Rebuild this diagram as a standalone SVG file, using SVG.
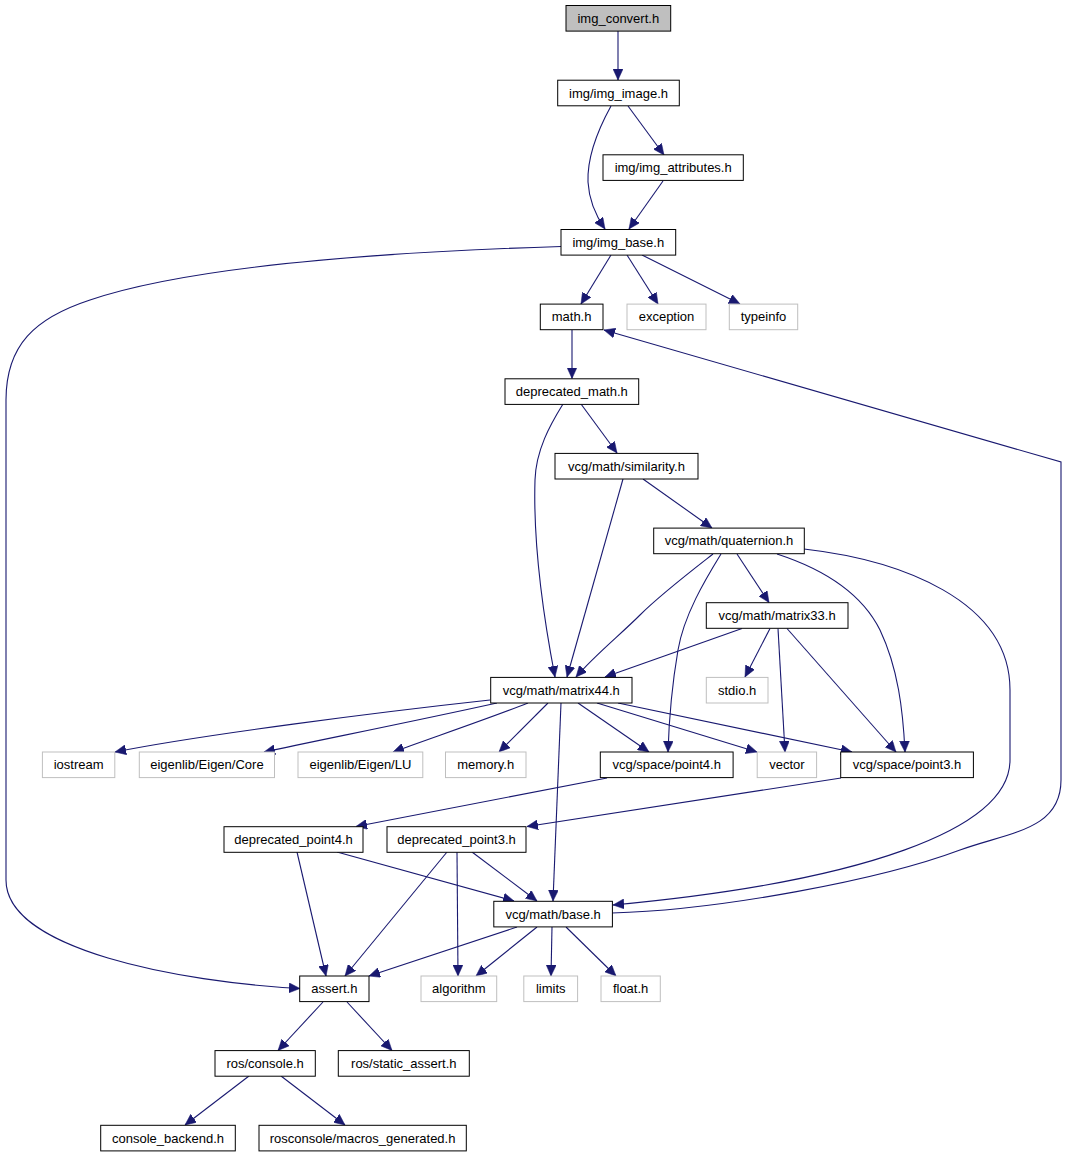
<svg xmlns="http://www.w3.org/2000/svg" width="1067" height="1157" viewBox="0 0 1067 1157">
<style>
.bg{fill:#ffffff}
.n rect{fill:#ffffff;stroke:#000000;stroke-width:1}
.g rect{fill:#ffffff;stroke:#bfbfbf;stroke-width:1}
.r rect{fill:#bfbfbf;stroke:#000000;stroke-width:1}
text{font-family:"Liberation Sans",Arial,Helvetica,sans-serif;font-size:13px;fill:#000000;text-anchor:middle}
#edges path{fill:none;stroke:#191970;stroke-width:1.1;marker-end:url(#ah)}
</style>
<defs>
<marker id="ah" markerUnits="userSpaceOnUse" markerWidth="11" markerHeight="10" refX="11" refY="5" orient="auto">
<path d="M0,0 L11,5 L0,10 z" fill="#191970" stroke="#191970" stroke-width="0.5"/>
</marker>
</defs>
<rect class="bg" x="0" y="0" width="1067" height="1157"/>
<g id="edges">
<path d="M618,31 L618,80"/>
<path d="M611,106 C600,126 587,155 588,182 C589,200 596,216 605,229"/>
<path d="M628,106 L664,155"/>
<path d="M663,181 L629,229"/>
<path d="M561,246.5 C449,250 208,260 90,300 C35,318 6,345 6,400 L6,880 C6,950 180,982 300,988.5"/>
<path d="M611,255 L581,304"/>
<path d="M627,255 L658,304"/>
<path d="M642,255 L740,304"/>
<path d="M572,330 L572,378.5"/>
<path d="M581,404 L617,453"/>
<path d="M563,404 C550,425 536,450 535,480 C533,545 545,625 555,677"/>
<path d="M623,479 L567,677"/>
<path d="M643,479 L712,528"/>
<path d="M713,554 C690,572 660,595 640,615 C620,635 595,655 576,677"/>
<path d="M721,554 C705,580 684,615 678,650 C672,685 669,720 668,752"/>
<path d="M737,554 L769,602.5"/>
<path d="M777,554 C820,568 860,590 880,630 C898,668 903,710 905,752"/>
<path d="M804,549 C900,560 1010,600 1010,690 L1010,760 C1010,830 860,882 613,905"/>
<path d="M612,913 C720,910 880,880 960,850 C1010,832 1061,830 1061,780 L1061,462 L604,330"/>
<path d="M490,700 C380,712 200,735 115,752"/>
<path d="M497,703 C420,720 330,738 264,752"/>
<path d="M528,703 C490,718 440,735 393,752"/>
<path d="M548,703 L499,752"/>
<path d="M578,703 L649,752"/>
<path d="M597,703 L757,752"/>
<path d="M618,703 L852,752"/>
<path d="M561,703 L553,901"/>
<path d="M742,628.5 L605,677"/>
<path d="M770,628.5 L745,677"/>
<path d="M778,628.5 L785,752"/>
<path d="M787,628.5 L896,752"/>
<path d="M607,778 L356,826.5"/>
<path d="M841,778 L527,826.5"/>
<path d="M297,852 L326,976"/>
<path d="M337,852 L514,901"/>
<path d="M447,852 L345,976"/>
<path d="M457,852 L458,976"/>
<path d="M472,852 L537,901"/>
<path d="M517,927 L369,976"/>
<path d="M537,927 L476,976"/>
<path d="M552,927 L551,976"/>
<path d="M566,927 L616,976"/>
<path d="M323,1002 L278,1050.5"/>
<path d="M347,1002 L392,1050.5"/>
<path d="M249,1076 L185,1125"/>
<path d="M281,1076 L345,1125"/>
</g>
<g id="n_img_convert" class="r"><rect x="566" y="5.5" width="104.7" height="25.6"/><text x="618.3" y="22.8">img_convert.h</text></g>
<g id="n_img_image" class="n"><rect x="557.7" y="80.2" width="121.6" height="25.6"/><text x="618.5" y="97.5">img/img_image.h</text></g>
<g id="n_img_attributes" class="n"><rect x="603" y="154.8" width="140.3" height="25.6"/><text x="673.2" y="172.1">img/img_attributes.h</text></g>
<g id="n_img_base" class="n"><rect x="561" y="229.5" width="114.7" height="25.6"/><text x="618.3" y="246.8">img/img_base.h</text></g>
<g id="n_math" class="n"><rect x="540.3" y="304.1" width="62.7" height="25.6"/><text x="571.6" y="321.4">math.h</text></g>
<g id="n_exception" class="g"><rect x="627" y="304.1" width="79" height="25.6"/><text x="666.5" y="321.4">exception</text></g>
<g id="n_typeinfo" class="g"><rect x="729.3" y="304.1" width="68.4" height="25.6"/><text x="763.5" y="321.4">typeinfo</text></g>
<g id="n_deprecated_math" class="n"><rect x="505" y="378.8" width="133.7" height="25.6"/><text x="571.8" y="396.1">deprecated_math.h</text></g>
<g id="n_similarity" class="n"><rect x="555" y="453.4" width="143" height="25.6"/><text x="626.5" y="470.7">vcg/math/similarity.h</text></g>
<g id="n_quaternion" class="n"><rect x="653.7" y="528.1" width="150.6" height="25.6"/><text x="729" y="545.4">vcg/math/quaternion.h</text></g>
<g id="n_matrix33" class="n"><rect x="706.3" y="602.7" width="141.7" height="25.6"/><text x="777.1" y="620">vcg/math/matrix33.h</text></g>
<g id="n_matrix44" class="n"><rect x="490.7" y="677.4" width="141.3" height="25.6"/><text x="561.3" y="694.7">vcg/math/matrix44.h</text></g>
<g id="n_stdio" class="g"><rect x="706.3" y="677.4" width="61.7" height="25.6"/><text x="737.1" y="694.7">stdio.h</text></g>
<g id="n_iostream" class="g"><rect x="42.4" y="752" width="72.4" height="25.6"/><text x="78.6" y="769.3">iostream</text></g>
<g id="n_eigen_core" class="g"><rect x="139.3" y="752" width="135.2" height="25.6"/><text x="206.9" y="769.3">eigenlib/Eigen/Core</text></g>
<g id="n_eigen_lu" class="g"><rect x="298" y="752" width="124.8" height="25.6"/><text x="360.4" y="769.3">eigenlib/Eigen/LU</text></g>
<g id="n_memory" class="g"><rect x="445.5" y="752" width="80.5" height="25.6"/><text x="485.7" y="769.3">memory.h</text></g>
<g id="n_point4" class="n"><rect x="600.3" y="752" width="132.8" height="25.6"/><text x="666.7" y="769.3">vcg/space/point4.h</text></g>
<g id="n_vector" class="g"><rect x="757.2" y="752" width="59.4" height="25.6"/><text x="786.9" y="769.3">vector</text></g>
<g id="n_point3" class="n"><rect x="840.7" y="752" width="132.7" height="25.6"/><text x="907" y="769.3">vcg/space/point3.h</text></g>
<g id="n_deprecated_point4" class="n"><rect x="224" y="826.7" width="139" height="25.6"/><text x="293.5" y="844">deprecated_point4.h</text></g>
<g id="n_deprecated_point3" class="n"><rect x="387" y="826.7" width="139" height="25.6"/><text x="456.5" y="844">deprecated_point3.h</text></g>
<g id="n_base" class="n"><rect x="493.8" y="901.3" width="118.6" height="25.6"/><text x="553.1" y="918.6">vcg/math/base.h</text></g>
<g id="n_assert" class="n"><rect x="299.7" y="976" width="69.3" height="25.6"/><text x="334.3" y="993.3">assert.h</text></g>
<g id="n_algorithm" class="g"><rect x="421" y="976" width="75.7" height="25.6"/><text x="458.8" y="993.3">algorithm</text></g>
<g id="n_limits" class="g"><rect x="523.8" y="976" width="53.8" height="25.6"/><text x="550.7" y="993.3">limits</text></g>
<g id="n_float" class="g"><rect x="601" y="976" width="59.3" height="25.6"/><text x="630.6" y="993.3">float.h</text></g>
<g id="n_ros_console" class="n"><rect x="215" y="1050.6" width="100.3" height="25.6"/><text x="265.1" y="1067.9">ros/console.h</text></g>
<g id="n_static_assert" class="n"><rect x="338.3" y="1050.6" width="131" height="25.6"/><text x="403.8" y="1067.9">ros/static_assert.h</text></g>
<g id="n_console_backend" class="n"><rect x="100.7" y="1125.3" width="134.6" height="25.6"/><text x="168" y="1142.6">console_backend.h</text></g>
<g id="n_macros_generated" class="n"><rect x="259" y="1125.3" width="207.3" height="25.6"/><text x="362.6" y="1142.6">rosconsole/macros_generated.h</text></g>
</svg>
